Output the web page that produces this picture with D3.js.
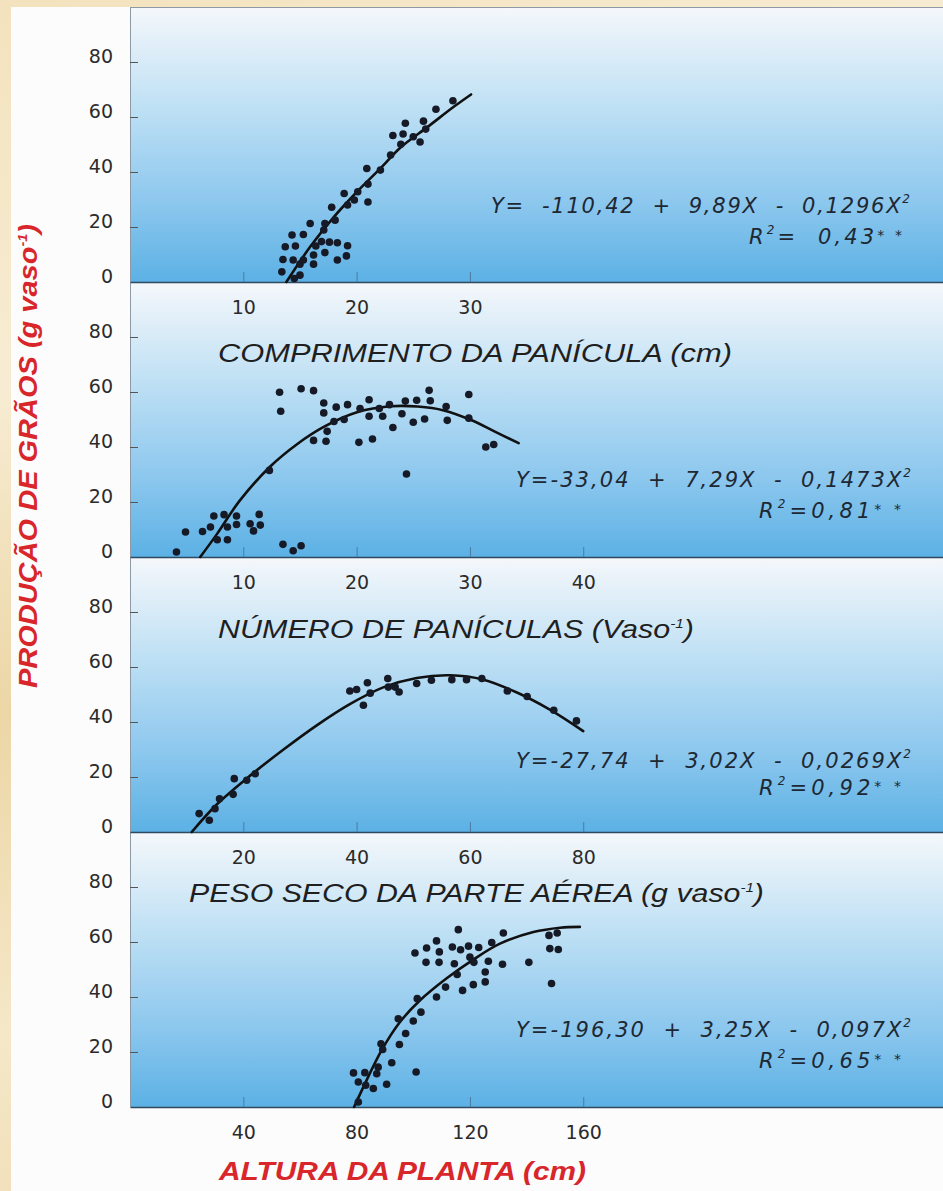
<!DOCTYPE html>
<html><head><meta charset="utf-8">
<script src="https://cdn.jsdelivr.net/npm/d3@7"></script>
<style>html,body{margin:0;padding:0;background:#f2e4c3;} svg{display:block}</style>
</head><body><svg id="c" width="943" height="1191"></svg>
<script>
// ---------- DATA ----------
// Panel 1: Comprimento da panícula (cm)
const p1x = [28.5,27.0,24.3,25.9,23.2,24.1,25.0,26.1,25.6,23.9,23.0,20.9,22.1,21.0,21.0,18.9,19.8,20.1,19.2,17.8,18.1,17.2,15.9,17.1,14.3,15.3,13.7,14.6,16.4,16.9,17.6,18.3,19.2,13.5,14.4,15.3,16.2,17.2,18.3,19.1,13.4,15.0,15.0,14.5,16.2];
const p1y = [65.9,62.8,57.7,58.5,53.3,53.8,52.8,55.6,50.9,50.1,46.2,41.3,40.7,35.6,29.1,32.2,29.8,32.8,28.0,27.2,22.5,21.3,21.3,18.9,17.1,17.3,12.8,13.1,13.1,14.7,14.5,14.3,13.2,8.2,8.0,8.0,9.8,10.7,8.0,9.5,3.7,6.5,2.5,1.3,6.5];
const c1x = [13.8,15.9,18.0,20.1,22.1,23.9,26.3,28.6,30.1];
const c1y = [0,12.8,23.7,33.1,41.3,49.0,56.5,63.8,68.2];
const t1 = [10,20,30];

// Panel 2: Número de panículas
const p2x = [4.1,4.9,6.4,7.1,7.4,8.3,7.7,8.6,8.6,9.4,9.4,10.6,10.9,11.4,11.5,12.3,13.5,14.4,15.1,13.2,13.3,15.1,16.2,17.1,17.1,17.4,17.3,16.2,18.2,19.2,18.0,18.9,20.3,21.1,21.1,22.0,22.3,22.9,20.2,21.4,23.2,24.0,24.3,25.3,25.0,24.4,26.0,26.4,26.5,27.9,28.0,29.9,29.9,31.4,32.1];
const p2y = [1.8,9.1,9.3,10.9,14.9,15.4,6.3,6.3,10.9,11.8,14.9,12.1,9.5,15.5,11.6,31.5,4.6,2.3,4.1,59.9,53.0,61.2,60.5,56.0,52.4,45.7,42.1,42.4,54.5,55.4,49.3,50.0,54.0,57.2,51.2,54.0,51.2,55.4,41.7,42.9,47.1,52.1,56.7,57.0,49.0,30.2,50.2,60.6,56.8,54.7,49.7,59.1,50.5,40.0,40.9];
const c2x = [6.2,7.7,9.7,12.4,14.8,17.1,20.1,23.0,25.4,27.7,30.1,32.2,34.3];
const c2y = [0,8.5,20.6,33.0,41.2,47.3,52.7,54.8,54.7,53.3,49.8,45.6,41.4];
const t2 = [10,20,30,40];

// Panel 3: Peso seco da parte aérea
const p3x = [12.2,14.0,15.0,15.8,18.2,18.4,20.6,22.1,38.8,40.0,41.9,41.2,42.4,45.5,45.6,46.8,47.5,50.6,53.2,56.8,59.4,62.1,66.6,70.1,74.8,78.8];
const p3y = [6.7,4.3,8.5,12.1,13.7,19.4,18.8,21.2,51.3,51.8,54.3,46.1,50.5,55.8,52.7,52.7,50.9,54.0,55.2,55.4,55.4,55.8,51.3,49.3,44.3,40.4];
const c3x = [10.9,15.3,21.2,27.1,32.9,38.8,44.7,50.6,56.5,62.4,68.2,74.1,80.0];
const c3y = [0,10.0,20.5,30.0,38.7,46.5,52.6,56.0,57.0,55.4,50.8,44.5,36.7];
const t3 = [20,40,60,80];

// Panel 4: Altura da planta
const p4x = [80.6,78.9,82.9,80.6,83.2,85.9,87.1,87.6,90.6,88.6,89.2,92.4,94.7,95.1,97.3,100.0,101.0,101.4,102.7,108.2,111.4,100.6,104.7,104.5,108.2,109.2,109.1,113.8,115.9,116.7,114.5,115.5,119.5,123.1,120.0,121.4,117.4,121.2,125.4,125.4,126.5,127.7,131.8,131.5,140.8,147.9,150.8,148.2,151.2,148.8];
const p4y = [1.8,12.4,12.5,9.1,7.9,6.7,12.1,14.5,8.3,23.0,20.9,16.1,32.1,22.7,26.7,31.3,12.7,39.4,34.5,40.0,43.6,56.0,57.8,52.6,60.4,56.4,52.6,58.2,64.5,57.2,52.1,48.2,58.5,58.0,54.5,52.6,42.4,44.5,45.5,49.1,53.0,59.8,63.3,51.9,52.6,62.4,63.3,57.6,57.3,44.9];
const c4x = [79.1,83.5,88.8,95.3,102.4,111.8,121.2,130.6,142.4,151.8,158.8];
const c4y = [0,9.7,20.6,30.9,38.8,46.8,53.6,59.4,63.6,65.2,65.5];
const t4 = [40,80,120,160];

const yTicks = [0,20,40,60,80];
const eqMain = ["Y=  -110,42  +  9,89X  -  0,1296X","Y=-33,04  +  7,29X  -  0,1473X","Y=-27,74  +  3,02X  -  0,0269X","Y=-196,30  +  3,25X  -  0,097X"];
const r2Val = ["=  0,43","=0,81","=0,92","=0,65"];
const xTitles = [["COMPRIMENTO DA PANÍCULA (cm)",""],["NÚMERO DE PANÍCULAS (Vaso","-1",")"],["PESO SECO DA PARTE AÉREA (g vaso","-1",")"],["ALTURA DA PLANTA (cm)"]];
const yTitle = ["PRODUÇÃO DE GRÃOS (g vaso","-1",")"];

// ---------- LAYOUT ----------
const svg = d3.select("#c");
const defs = svg.append("defs");
const bgG = defs.append("linearGradient").attr("id","bg").attr("x1",0).attr("y1",0).attr("x2",0.3).attr("y2",1);
[["0%","#f3e2bd"],["30%","#f7ecd3"],["55%","#ecd6a6"],["80%","#f5e7c8"],["100%","#efdcb2"]].forEach(s=>bgG.append("stop").attr("offset",s[0]).attr("stop-color",s[1]));
const pg = defs.append("linearGradient").attr("id","pg").attr("x1",0).attr("y1",0).attr("x2",0).attr("y2",1);
[["0%","#f5f8fb"],["10%","#e6f1f9"],["38%","#bcdff4"],["70%","#8ec8ee"],["100%","#5cb1e5"]].forEach(s=>pg.append("stop").attr("offset",s[0]).attr("stop-color",s[1]));

svg.append("rect").attr("width",943).attr("height",1191).attr("fill","url(#bg)");
svg.append("rect").attr("x",11).attr("y",7).attr("width",932).attr("height",1184).attr("fill","#fcfcfc");

const L=130, R=943, top0=7, PH=275;
const panels = [
  {px:p1x,py:p1y,cx:c1x,cy:c1y,ticks:t1,xMax:71.75,eqX:491,eqLen:419,eqOff:-69,rX:749,rLen:153,rOff:-38},
  {px:p2x,py:p2y,cx:c2x,cy:c2y,ticks:t2,xMax:71.75,eqX:516,eqLen:395,eqOff:-70,rX:759,rLen:142,rOff:-39},
  {px:p3x,py:p3y,cx:c3x,cy:c3y,ticks:t3,xMax:143.5,eqX:516,eqLen:395,eqOff:-64,rX:759,rLen:142,rOff:-37},
  {px:p4x,py:p4y,cx:c4x,cy:c4y,ticks:t4,xMax:287,eqX:516,eqLen:395,eqOff:-70,rX:759,rLen:142,rOff:-39}
];

panels.forEach((p,i)=>{
  const top = top0+PH*i;
  svg.append("rect").attr("x",L).attr("y",top).attr("width",R-L).attr("height",PH).attr("fill","url(#pg)");
});
svg.append("line").attr("x1",L+0.5).attr("x2",L+0.5).attr("y1",top0).attr("y2",top0+PH*4).attr("stroke","#8d9aa6").attr("stroke-width",1);
svg.append("line").attr("x1",L).attr("x2",R).attr("y1",top0+0.5).attr("y2",top0+0.5).attr("stroke","#8d9aa6").attr("stroke-width",1);

const FONT = "'Liberation Sans', Arial, Helvetica, sans-serif";
const WIDE = "'DejaVu Sans', Verdana, sans-serif";
const NARROW = "'Liberation Sans Narrow', 'Arial Narrow', 'Liberation Sans', Arial, sans-serif";

panels.forEach((p,i)=>{
  const top = top0+PH*i, ax = top+PH;
  const x = d3.scaleLinear().domain([0,p.xMax]).range([L,R]);
  const y = d3.scaleLinear().domain([0,100]).range([ax,top]);

  const gy = svg.append("g").attr("transform",`translate(${L},0)`)
    .call(d3.axisLeft(y).tickValues(yTicks).tickSizeInner(-8).tickSizeOuter(0).tickPadding(17));
  gy.select(".domain").remove();
  gy.attr("font-family",null).attr("font-size",null);
  gy.selectAll(".tick line").attr("stroke","#555").attr("stroke-width",1).filter(d=>d===0).remove();
  gy.selectAll(".tick text").attr("dy","0").attr("font-family",WIDE).attr("font-size",19).attr("fill","#2b2b2b");

  const gx = svg.append("g").attr("transform",`translate(0,${ax})`)
    .call(d3.axisBottom(x).tickValues(p.ticks).tickSizeInner(-10).tickSizeOuter(0).tickPadding(0));
  gx.attr("font-family",null).attr("font-size",null);
  gx.select(".domain").attr("stroke","#2f4a60").attr("stroke-width",1.6);
  gx.selectAll(".tick line").attr("stroke","#4a7ca3").attr("stroke-width",1);
  gx.selectAll(".tick text").attr("y",32).attr("dy","0").attr("font-family",WIDE).attr("font-size",19).attr("fill","#2b2b2b");

  const pts = p.cx.map((v,k)=>[v,p.cy[k]]);
  svg.append("path").attr("d", d3.line().x(d=>x(d[0])).y(d=>y(d[1])).curve(d3.curveCatmullRom.alpha(0.5))(pts))
    .attr("fill","none").attr("stroke","#111").attr("stroke-width",2.6).attr("stroke-linecap","round");

  svg.append("g").selectAll("circle").data(p.px.map((v,k)=>[v,p.py[k]])).join("circle")
    .attr("cx",d=>x(d[0])).attr("cy",d=>y(d[1])).attr("r",3.8).attr("fill","#161a26");

  const te = svg.append("text").attr("x",p.eqX).attr("y",ax+p.eqOff).attr("xml:space","preserve")
    .attr("font-family",WIDE).attr("font-style","italic").attr("font-size",21).attr("fill","#1e2833")
    .attr("textLength",p.eqLen).attr("lengthAdjust","spacing");
  te.append("tspan").text(eqMain[i]);
  te.append("tspan").attr("font-size",12).attr("dy",-10).text("2");

  const tr = svg.append("text").attr("x",p.rX).attr("y",ax+p.rOff).attr("xml:space","preserve")
    .attr("font-family",WIDE).attr("font-style","italic").attr("font-size",21).attr("fill","#1e2833")
    .attr("textLength",p.rLen).attr("lengthAdjust","spacing");
  tr.append("tspan").text("R");
  tr.append("tspan").attr("font-size",12).attr("dy",-10).text("2");
  tr.append("tspan").attr("dy",10).text(r2Val[i]);
  tr.append("tspan").attr("font-size",14).attr("dy",-4).text("* *");
});

function titleText(parts, x0, yb, len, opts){
  const t = svg.append("text").attr("x",x0).attr("y",yb)
    .attr("font-family",opts.family).attr("font-style","italic").attr("font-weight",opts.weight||"normal")
    .attr("font-size",opts.size).attr("fill",opts.color)
    .attr("textLength",len).attr("lengthAdjust","spacingAndGlyphs");
  t.append("tspan").text(parts[0]);
  if(parts.length>1 && parts[1]){
    t.append("tspan").attr("font-size",opts.size*0.5).attr("dy",-opts.size*0.4).text(parts[1]);
    t.append("tspan").attr("dy",opts.size*0.4).text(parts[2]);
  }
  return t;
}
titleText(xTitles[0], 218, 362, 514, {family:NARROW,size:26,color:"#1f1f1f"});
titleText(xTitles[1], 218, 638, 476, {family:NARROW,size:26,color:"#1f1f1f"});
titleText(xTitles[2], 189, 902, 575, {family:NARROW,size:26,color:"#1f1f1f"});
titleText(xTitles[3], 219, 1180, 367, {family:FONT,size:26,weight:"bold",color:"#d8262b"});

const yt = svg.append("g").attr("transform","translate(37,456) rotate(-90)");
const ytt = yt.append("text").attr("x",-232).attr("y",0)
  .attr("font-family",FONT).attr("font-style","italic").attr("font-weight","bold")
  .attr("font-size",26).attr("fill","#d8262b")
  .attr("textLength",464).attr("lengthAdjust","spacingAndGlyphs");
ytt.append("tspan").text(yTitle[0]);
ytt.append("tspan").attr("font-size",13).attr("dy",-10).text(yTitle[1]);
ytt.append("tspan").attr("dy",10).text(yTitle[2]);
</script></body></html>
